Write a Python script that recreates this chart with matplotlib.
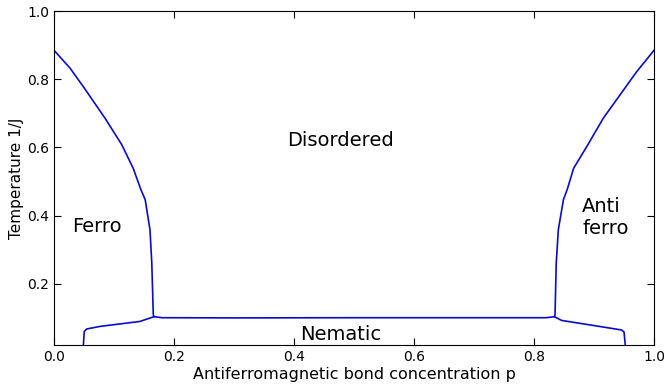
import matplotlib
matplotlib.use('Agg')
import matplotlib.pyplot as plt

# ferro / disordered boundary (left)
ferro_p = [0.0, 0.027, 0.049, 0.085, 0.113, 0.132, 0.1445, 0.152, 0.160, 0.163, 0.1655, 0.1667]
ferro_T = [0.885, 0.832, 0.778, 0.686, 0.608, 0.539, 0.478, 0.447, 0.359, 0.261, 0.110, 0.104]

# antiferro / disordered boundary (right)
anti_p = [1.0, 0.971, 0.9155, 0.888, 0.866, 0.8555, 0.849, 0.8405, 0.837, 0.835, 0.834]
anti_T = [0.885, 0.822, 0.686, 0.603, 0.539, 0.478, 0.447, 0.359, 0.261, 0.110, 0.104]

# nematic boundary
nem_p = [0.049, 0.0505, 0.0545, 0.077, 0.143, 0.1667, 0.18, 0.3, 0.5, 0.7, 0.82,
         0.834, 0.846, 0.893, 0.946, 0.95, 0.952]
nem_T = [0.022, 0.061, 0.068, 0.0756, 0.090, 0.104, 0.101, 0.1005, 0.101, 0.101, 0.101,
         0.104, 0.093, 0.080, 0.065, 0.059, 0.022]

fig = plt.figure(figsize=(6.64, 3.88), dpi=100)
ax = fig.add_axes([0.0813, 0.1108, 0.9037, 0.8608])

col = '#0a0acc'
ax.plot(ferro_p, ferro_T, color=col, lw=1.2)
ax.plot(anti_p, anti_T, color=col, lw=1.2)
ax.plot(nem_p, nem_T, color=col, lw=1.2)

ax.text(0.477, 0.62, 'Disordered', fontsize=14, ha='center', va='center')
ax.text(0.072, 0.367, 'Ferro', fontsize=14, ha='center', va='center')
ax.text(0.88, 0.395, 'Anti\nferro', fontsize=14, ha='left', va='center', linespacing=1.15)
ax.text(0.477, 0.051, 'Nematic', fontsize=14, ha='center', va='center')

ax.set_xlim(0, 1)
ax.set_ylim(0.021, 1.0)
ax.set_xticks([0.0, 0.2, 0.4, 0.6, 0.8, 1.0])
ax.set_yticks([0.2, 0.4, 0.6, 0.8, 1.0])
ax.tick_params(direction='in', top=True, right=True, length=5, labelsize=10)
ax.set_xlabel('Antiferromagnetic bond concentration p', fontsize=11.5, labelpad=2)
ax.set_ylabel('Temperature 1/J', fontsize=11, labelpad=2)

fig.savefig('out.png', dpi=100)
